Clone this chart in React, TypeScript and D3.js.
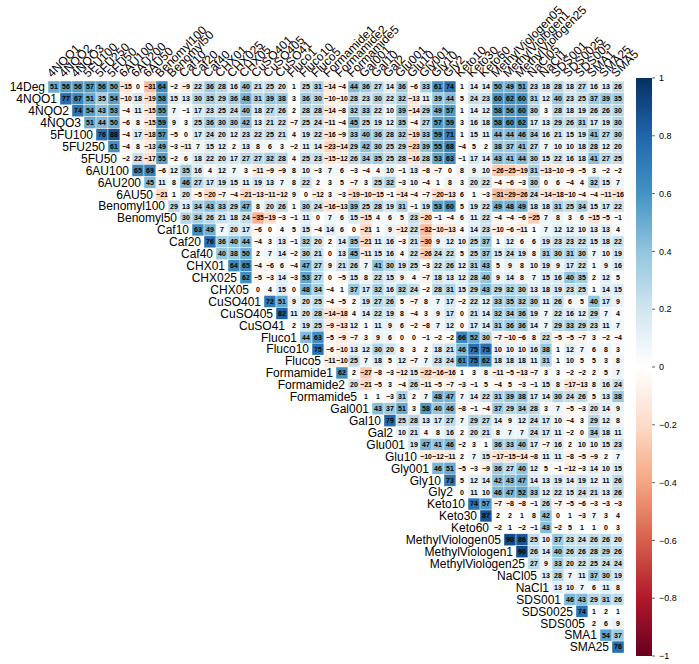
import React from "react";
import * as d3 from "d3";

const variables = ["14Deg","4NQO1","4NQO2","4NQO3","5FU100","5FU250","5FU50","6AU100","6AU200","6AU50","Benomyl100","Benomyl50","Caf10","Caf20","Caf40","CHX01","CHX025","CHX05","CuSO401","CuSO405","CuSO41","Fluco1","Fluco10","Fluco5","Formamide1","Formamide2","Formamide5","Gal001","Gal10","Gal2","Glu001","Glu10","Gly001","Gly10","Gly2","Keto10","Keto30","Keto60","MethylViologen05","MethylViologen1","MethylViologen25","NaCl05","NaCl1","SDS001","SDS0025","SDS005","SMA1","SMA25","SMA5"];
const rowLabels = variables.slice(0, 48);
const colLabels = variables.slice(1);

// correlation x100, row r covers columns r..47 (upper triangle)
const corrRows: number[][] = [
  [51,56,56,57,56,50,-15,0,-31,64,-2,-9,22,36,28,16,40,21,25,20,1,25,31,-14,-4,44,36,27,14,36,-6,33,61,74,1,14,14,50,49,51,23,18,28,18,27,16,13,26],
  [77,67,51,35,54,-10,18,-19,58,15,13,30,35,29,36,48,31,39,38,3,36,30,-10,-10,28,23,30,22,32,-13,11,39,44,5,24,23,60,62,60,31,12,40,23,25,37,39,35],
  [74,54,43,53,-4,11,-15,55,7,-1,17,23,25,24,40,18,27,26,2,28,28,-14,-8,32,33,22,10,39,-14,29,49,57,1,14,12,58,56,60,30,3,28,18,19,26,26,30],
  [51,44,50,-6,8,-15,59,9,3,25,36,30,30,42,13,21,22,-7,25,24,-11,-4,45,25,19,12,35,-4,27,57,59,3,16,18,58,60,62,17,13,29,26,31,17,19,30],
  [76,88,-4,17,-18,57,-5,0,17,24,20,12,23,22,25,21,4,19,22,-16,-9,33,40,36,28,32,-19,33,59,71,1,15,11,44,44,46,34,16,21,15,19,41,27,30],
  [61,-4,8,-13,49,-3,-11,7,15,12,2,13,8,6,3,-2,11,14,-23,-14,29,42,30,25,29,-23,39,55,68,-4,5,2,38,37,41,27,7,10,10,18,28,12,20],
  [-2,22,-17,55,-2,6,18,22,20,17,27,27,32,28,4,25,23,-15,-12,26,34,35,25,28,-16,28,53,63,-1,17,14,43,41,44,30,15,22,16,18,41,27,25],
  [65,69,-6,12,35,16,4,12,7,3,-11,-9,-9,8,10,-3,7,6,-3,-4,4,10,-1,13,-8,-7,0,8,9,10,-26,-25,-19,31,-13,-10,-9,-5,3,-2,-2],
  [45,11,8,46,27,17,19,15,11,19,13,7,8,22,2,3,5,-7,3,25,32,-3,10,-4,1,8,3,20,22,-4,-6,-3,30,0,6,-4,4,32,15,7],
  [-21,1,20,-5,-20,-7,-4,-21,-13,-11,-12,9,0,-12,3,-3,-19,-10,-15,-1,-14,-4,-7,-20,-13,6,1,-3,-31,-29,-26,24,-14,-18,-10,-4,-4,-11,-16],
  [29,13,34,43,33,29,47,8,20,26,1,30,24,-16,-13,39,25,28,19,31,-1,19,53,60,5,19,22,49,48,49,18,18,31,25,34,15,17,22],
  [30,34,26,21,18,24,-35,-19,-3,-1,11,0,7,6,15,-15,4,6,5,23,-20,-1,-4,6,11,22,-4,-4,-6,-25,7,8,3,6,-15,-5,-1],
  [63,49,7,20,17,-6,0,4,5,15,-4,14,6,0,-21,1,9,-12,22,-32,-10,-13,4,14,23,-10,-6,-11,1,7,12,12,10,13,13,4],
  [76,36,40,44,-4,3,13,-1,32,20,2,14,35,-21,11,16,-3,21,-30,9,12,10,25,37,1,12,6,6,19,23,23,22,15,18,22],
  [40,38,50,2,7,14,-2,30,21,0,13,45,-11,15,16,4,22,-26,24,22,5,25,37,15,24,19,8,31,30,31,30,7,10,19],
  [64,65,-4,-6,6,-4,47,27,9,21,26,7,41,30,19,25,-3,22,26,12,31,43,5,9,8,10,19,9,17,22,1,9,16],
  [62,-5,-3,14,-3,53,27,0,-5,15,8,22,15,9,4,-7,18,13,12,28,40,9,14,8,7,15,16,40,35,2,12,5],
  [0,4,15,0,48,34,-4,1,37,17,32,16,32,24,-2,28,31,15,29,43,29,32,30,13,18,19,23,25,1,14,15],
  [72,51,9,20,25,-4,-5,2,19,27,26,5,-7,8,7,17,-2,22,12,33,35,32,30,11,26,6,5,40,17,9],
  [82,11,20,28,-14,-18,4,14,22,19,8,-4,3,9,17,0,21,14,32,34,36,19,7,22,16,12,29,7,4],
  [2,19,25,-9,-13,12,1,11,9,6,-2,-8,7,12,0,17,14,31,36,36,14,7,29,33,29,23,11,7],
  [44,63,-5,-9,-7,3,9,6,0,0,-1,-2,-2,66,52,30,-7,-10,-6,8,22,-5,-5,-7,3,-2,-4],
  [75,-6,-10,13,12,30,20,8,3,2,18,21,46,75,75,10,10,10,16,38,1,12,7,6,8,3],
  [-11,-10,25,7,18,5,12,-7,7,23,24,61,75,62,18,18,18,11,31,1,10,5,5,3,8],
  [62,2,-27,-8,-3,-12,15,-22,-16,-16,1,3,8,-11,-5,-13,-7,3,3,-2,-2,2,5,7],
  [20,-21,-5,3,-4,26,-11,-5,-7,-3,-1,5,-4,5,-3,-1,15,8,-17,-13,8,16,24],
  [1,1,-3,31,2,7,48,47,7,14,22,31,39,38,17,14,30,24,26,5,13,38],
  [43,37,51,3,58,40,46,-8,-1,-4,37,29,34,28,3,7,-5,-3,20,14,9],
  [79,25,28,13,17,27,7,29,27,14,9,12,24,17,10,-4,3,29,12,8],
  [10,21,4,8,16,2,20,21,8,7,7,24,17,11,-2,0,34,18,11],
  [19,47,41,46,-2,3,1,36,33,40,17,-7,16,2,10,10,15,23],
  [-10,-12,-11,2,7,15,-17,-15,-14,-8,11,11,-8,-5,-9,2,7],
  [46,51,-5,-3,-9,36,27,40,12,5,-1,-12,-3,14,10,15],
  [73,5,12,14,42,43,47,14,13,19,14,19,12,11,26],
  [0,11,10,46,47,52,33,12,22,15,24,21,13,26],
  [74,57,-7,-8,-8,-1,26,-7,-5,-6,-3,-3,-3],
  [87,2,2,1,8,42,0,1,-3,7,3,4],
  [-2,1,-2,-1,43,-2,5,1,1,0,3],
  [90,86,25,10,37,23,24,26,26,20],
  [90,26,14,40,26,26,28,29,26],
  [27,9,33,20,22,25,24,24],
  [13,28,7,11,37,30,19],
  [13,10,7,6,11,8],
  [46,43,29,31,26],
  [74,1,2,1],
  [2,6,9],
  [54,37],
  [76],
];

const legendTicks = [1, 0.8, 0.6, 0.4, 0.2, 0, -0.2, -0.4, -0.6, -0.8, -1];
const paletteStops = [-1, -0.8, -0.6, -0.4, -0.2, 0, 0.2, 0.4, 0.6, 0.8, 1];
const paletteColors = ["#67001F","#B2182B","#D6604D","#F4A582","#FDDBC7","#FFFFFF","#D1E5F0","#92C5DE","#4393C3","#2166AC","#053061"];

const W = 699, H = 664;
const FONT = "'Liberation Sans', Arial, Helvetica, sans-serif";

export default function App() {
  const x = d3.scaleBand<string>().domain(colLabels).range([48, 624]).paddingInner(0);
  const y = d3.scaleBand<string>().domain(rowLabels).range([81, 653]).paddingInner(0);
  const color = d3.scaleLinear<string>().domain(paletteStops).range(paletteColors).interpolate(d3.interpolateRgb);
  const legY = d3.scaleLinear().domain([-1, 1]).range([656, 78]);
  const fmt = (v: number) => (v < 0 ? "\u2212" + Math.abs(v) : String(v));

  const cells: JSX.Element[] = [];
  corrRows.forEach((row, r) => {
    row.forEach((v, k) => {
      const c = r + k;
      const cx = x(colLabels[c])!;
      const cy = y(rowLabels[r])!;
      cells.push(
        <g key={`${r}-${c}`}>
          <rect x={cx} y={cy} width={x.bandwidth()} height={y.bandwidth()} fill={color(v / 100)} stroke="#ffffff" strokeWidth={0.4} />
          <text x={cx + x.bandwidth() / 2} y={cy + y.bandwidth() / 2} dy="0.35em" textAnchor="middle" fontSize={7} fontWeight="bold" fill="#000">{fmt(v)}</text>
        </g>
      );
    });
  });

  return (
    <svg width={W} height={H} style={{ position: "fixed", left: 0, top: 0, background: "#fff" }} fontFamily={FONT}>
      <defs>
        <linearGradient id="leg" x1="0" y1="1" x2="0" y2="0">
          {paletteStops.map((s, i) => (
            <stop key={i} offset={`${((s + 1) / 2) * 100}%`} stopColor={paletteColors[i]} />
          ))}
        </linearGradient>
      </defs>
      {cells}
      {rowLabels.map((lab, r) => (
        <text key={lab} x={x(colLabels[r])! - 3} y={y(lab)! + y.bandwidth() / 2} dy="0.36em" textAnchor="end" fontSize={12} fill="#000">{lab}</text>
      ))}
      {colLabels.map((lab) => {
        const px = x(lab)! + x.bandwidth() / 2 - 2;
        const py = 78;
        return (
          <text key={lab} transform={`translate(${px},${py}) rotate(-45)`} fontSize={12} fill="#000">{lab}</text>
        );
      })}
      <rect x={636} y={legY(1)} width={16} height={legY(-1) - legY(1)} fill="url(#leg)" />
      {legendTicks.map((t) => (
        <g key={t}>
          <line x1={652} x2={655} y1={legY(t)} y2={legY(t)} stroke="#000" strokeWidth={0.6} />
          <text x={659} y={legY(t)} dy="0.35em" fontSize={9} fill="#000">{t < 0 ? "\u2212" + Math.abs(t) : String(t)}</text>
        </g>
      ))}
    </svg>
  );
}
